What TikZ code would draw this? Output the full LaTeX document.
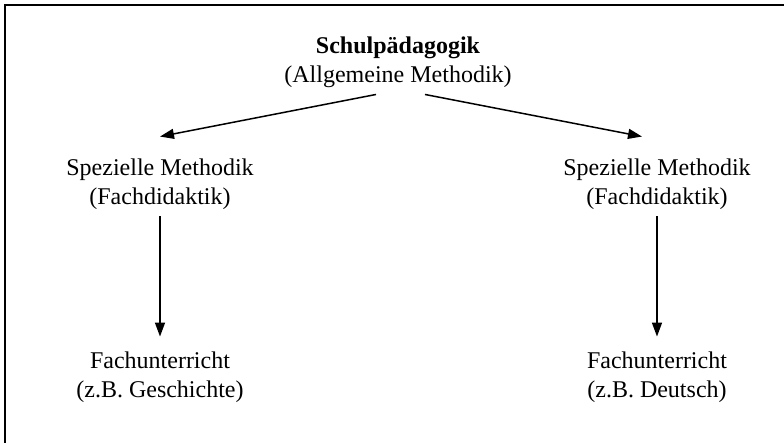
\documentclass[tikz,border=0pt]{standalone}
\usepackage{fontspec}
\setmainfont{Liberation Serif}
\usetikzlibrary{arrows.meta}
\tikzset{
  lbl/.style={align=center, inner sep=3.33pt, font=\fontsize{12}{14.5}\selectfont},
  arr/.style={line width=0.75pt, -{Triangle[length=7pt,width=5pt]}}
}

\begin{document}
\begin{tikzpicture}[x=0.5pt, y=-0.5pt]
			%%%%% START %%%%%
			
			\clip (0, 0) rectangle (784, 443);
			\draw[line width=0.9pt] (5, 5) rectangle (800, 460);
			
			\node[lbl] (top) at (398, 62) {\textbf{Schulpädagogik}\\(Allgemeine Methodik)};
			
			\node[lbl] (midL) at (160, 184) {Spezielle Methodik\\(Fachdidaktik)};
			\node[lbl] (midR) at (657, 184) {Spezielle Methodik\\(Fachdidaktik)};
			
			\node[lbl] (botL) at (160, 377) {Fachunterricht\\(z.B. Geschichte)};
			\node[lbl] (botR) at (657, 377) {Fachunterricht\\(z.B. Deutsch)};
			
			\draw[arr] ([xshift=-11pt]top.south) -- ([yshift=7.5pt]midL.north);
			\draw[arr] ([xshift=13.5pt]top.south) -- ([xshift=-7.5pt, yshift=7.5pt]midR.north);
			
			\draw[arr, shorten >=4pt] (midL.south) -- (botL.north);
			\draw[arr, shorten >=4pt] (midR.south) -- (botR.north);
			
			%%%%% END %%%%%
		\end{tikzpicture}
\end{document}
